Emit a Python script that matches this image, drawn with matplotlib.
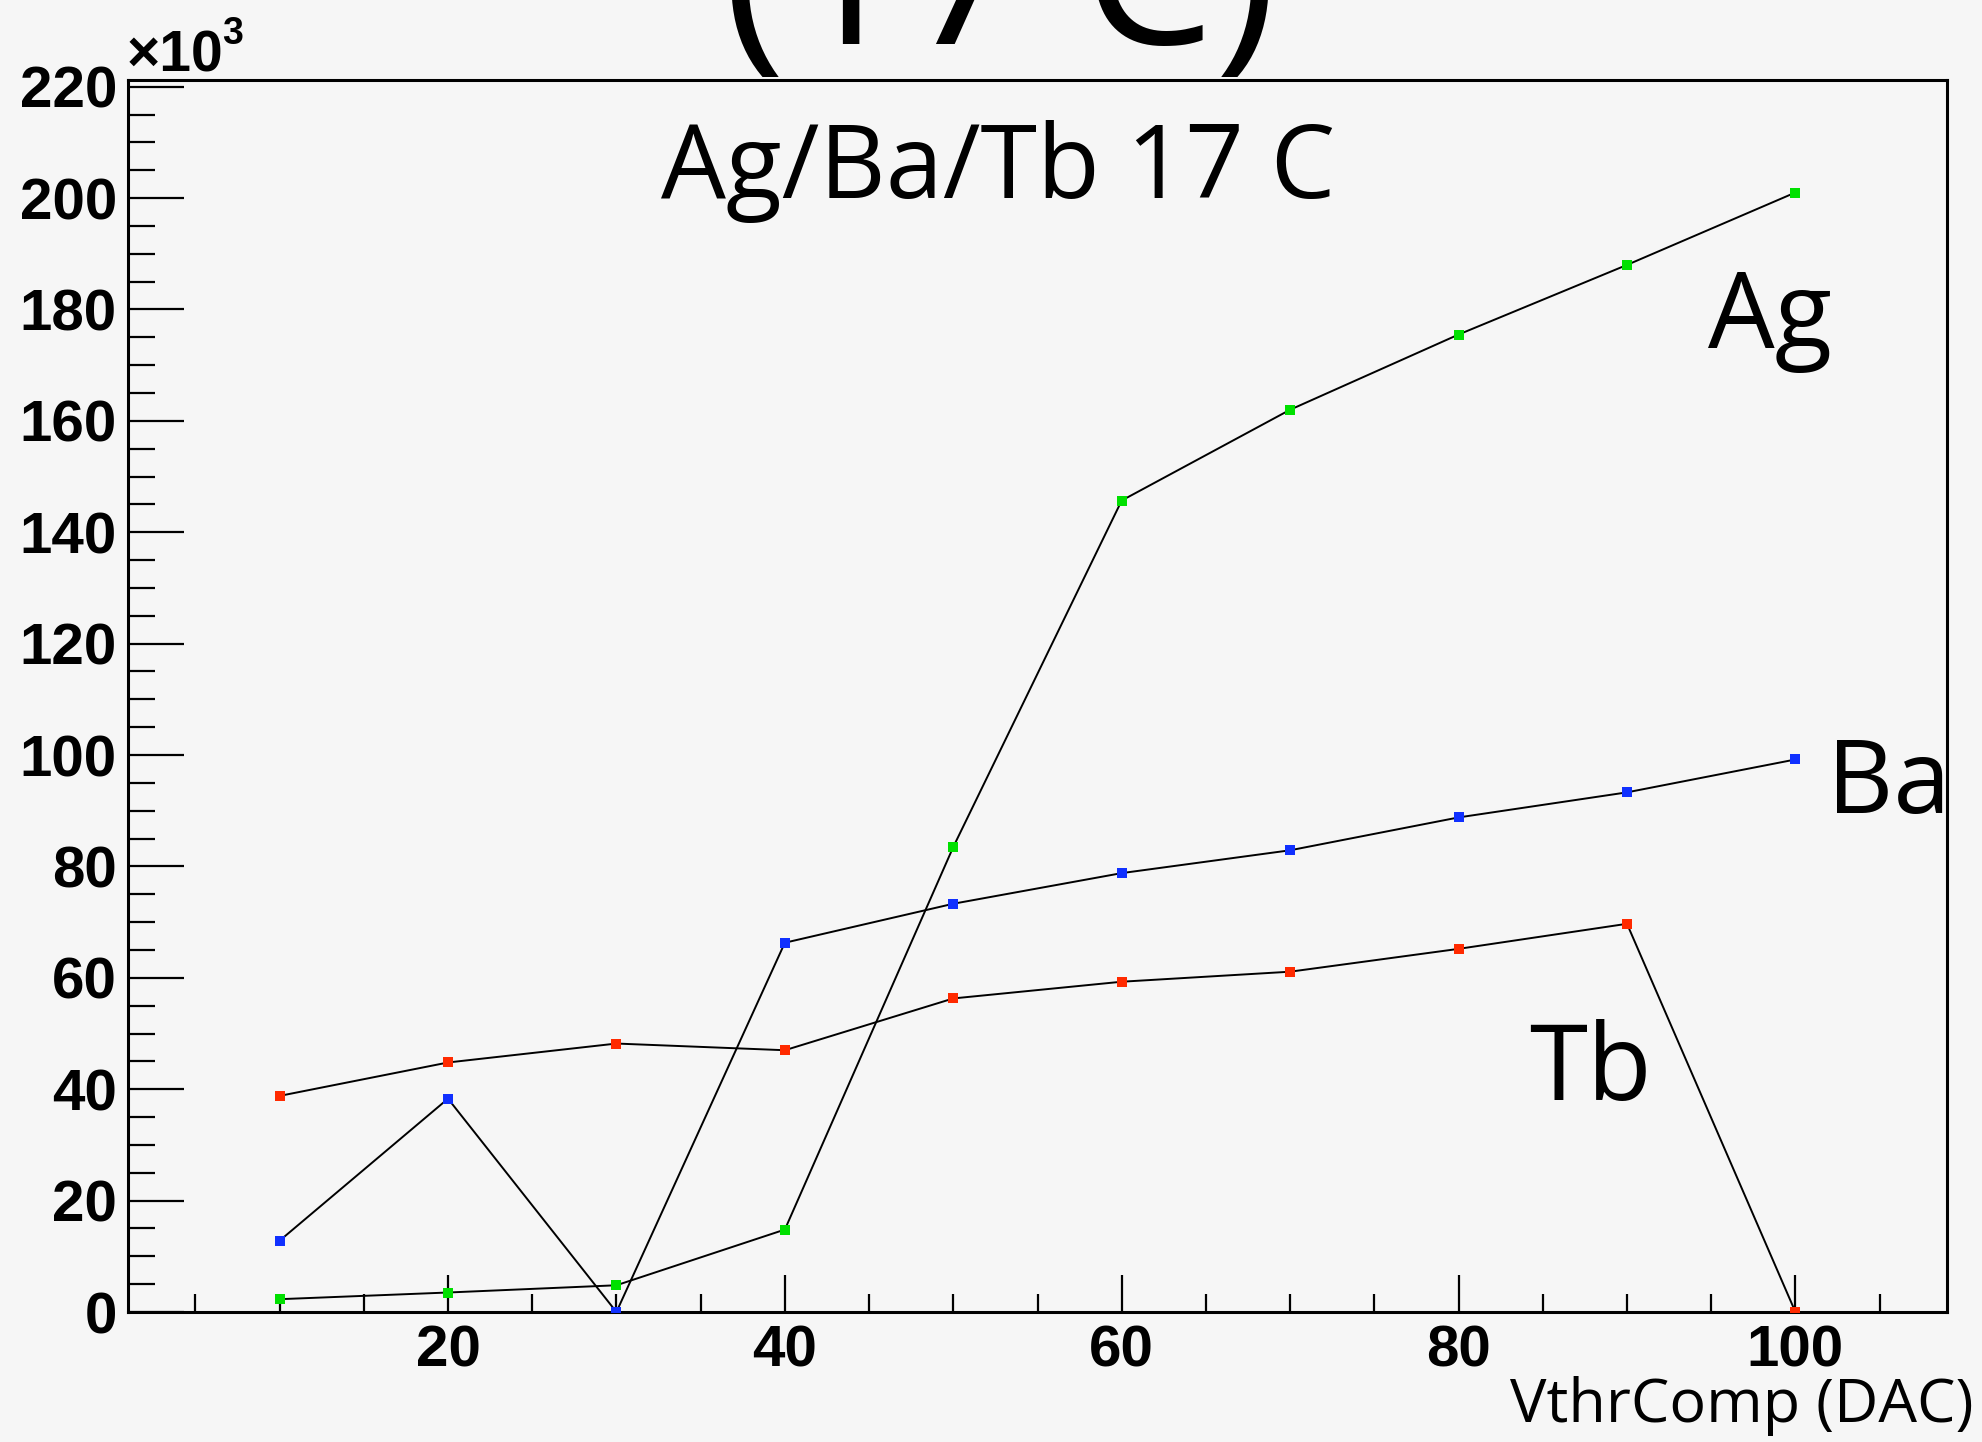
import matplotlib
matplotlib.use("Agg")
import matplotlib.pyplot as plt
from matplotlib.ticker import MultipleLocator

# VthrComp scan, counts in units of 10^3
vthr = [10, 20, 30, 40, 50, 60, 70, 80, 90, 100]
ag_counts = [2.3, 3.5, 4.8, 14.8, 83.5, 145.7, 162.0, 175.5, 188.0, 201.0]
ba_counts = [12.8, 38.3, 0.0, 66.3, 73.3, 78.8, 82.9, 88.8, 93.3, 99.2]
tb_counts = [38.8, 44.8, 48.2, 47.0, 56.3, 59.3, 61.1, 65.2, 69.7, 0.0]

series = [("Ag", ag_counts, "#00e000"), ("Ba", ba_counts, "#1030ff"), ("Tb", tb_counts, "#ff2a00")]

bg = "#f6f6f6"
W, H = 1982, 1442
fig = plt.figure(figsize=(W / 100, H / 100), dpi=100, facecolor=bg)
ax = fig.add_axes([128 / W, 1 - 1312 / H, (1947 - 128) / W, (1312 - 80) / H], facecolor=bg)

for name, vals, col in series:
    ax.plot(vthr, vals, color="black", lw=1.4, zorder=2)
    ax.plot(vthr, vals, ls="none", marker="s", ms=6.5, mew=0, color=col, zorder=3)

ax.set_xlim(1, 109)
ax.set_ylim(0, 221.2)
ax.xaxis.set_major_locator(MultipleLocator(20))
ax.xaxis.set_minor_locator(MultipleLocator(5))
ax.yaxis.set_major_locator(MultipleLocator(20))
ax.yaxis.set_minor_locator(MultipleLocator(5))

for s in ax.spines.values():
    s.set_linewidth(2.2)
ax.tick_params(axis="y", which="major", direction="in", length=40, width=1.6, pad=8)
ax.tick_params(axis="y", which="minor", direction="in", length=19.5, width=1.6)
ax.tick_params(axis="x", which="major", direction="in", length=27, width=1.6, pad=9)
ax.tick_params(axis="x", which="minor", direction="in", length=13, width=1.6)
for lab in ax.get_xticklabels() + ax.get_yticklabels():
    lab.set_fontfamily("Liberation Sans")
    lab.set_fontweight("bold")
    lab.set_fontsize(42)
ax.set_xticklabels(["" if t <= 1 else f"{int(t)}" for t in ax.get_xticks()])

# exponent label above y axis
fig.text(127 / W, 1 - 72 / H, "\u00d710", fontsize=41, fontfamily="Liberation Sans",
         fontweight="bold", va="baseline", ha="left")
fig.text(222 / W, 1 - 44 / H, "3", fontsize=27, fontfamily="Liberation Sans",
         fontweight="bold", va="baseline", ha="left")

kn = "Open Sans"
fig.text(1000 / W, 1 - 44 / H, "(17 C)", fontsize=152, fontfamily=kn, ha="center", va="baseline")
fig.text(998 / W, 1 - 198 / H, "Ag/Ba/Tb 17 C", fontsize=74, fontfamily=kn, ha="center", va="baseline")
fig.text(1770 / W, 1 - 348 / H, "Ag", fontsize=76, fontfamily=kn, ha="center", va="baseline")
fig.text(1889 / W, 1 - 813 / H, "Ba", fontsize=74, fontfamily=kn, ha="center", va="baseline")
fig.text(1590 / W, 1 - 1100 / H, "Tb", fontsize=76, fontfamily=kn, ha="center", va="baseline")
fig.text(1974 / W, 1 - 1422 / H, "VthrComp (DAC)", fontsize=44, fontfamily=kn, ha="right", va="baseline")

fig.savefig("out.png", dpi=100, facecolor=bg)
